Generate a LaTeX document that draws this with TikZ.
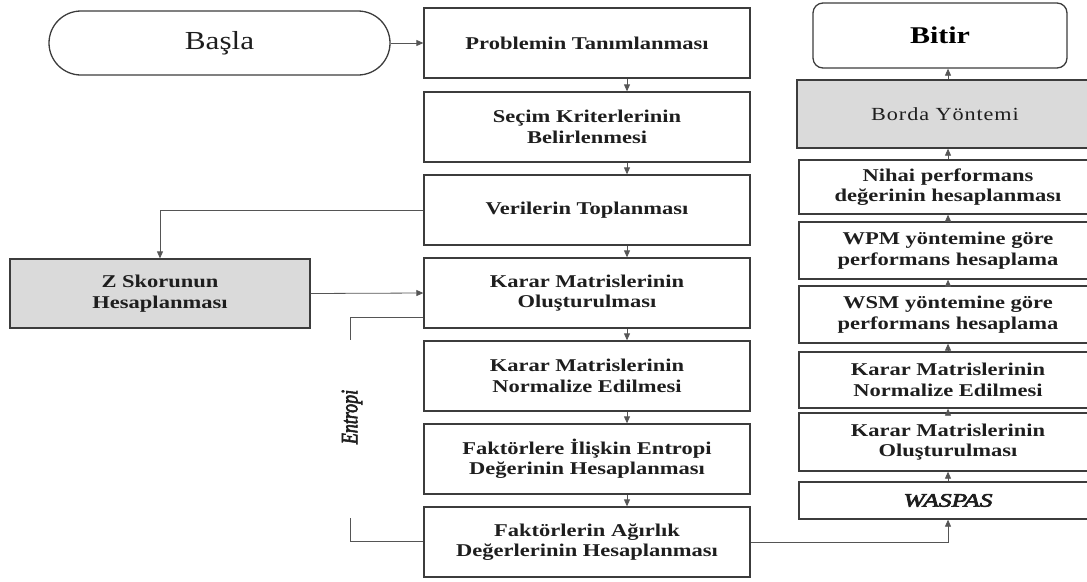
\documentclass[tikz,border=0pt]{standalone}
\usepackage{fontspec}
\setmainfont{Liberation Serif}[FakeStretch=1.25]
\newfontfamily\baslafont{Liberation Serif}[FakeStretch=1.2]
\newfontfamily\bordafont{Liberation Serif}[FakeStretch=1.2,LetterSpace=5]
\newfontfamily\bifont{Liberation Serif}[FakeBold=3]
\usetikzlibrary{arrows.meta}
\definecolor{boxline}{HTML}{3C3C3C}
\definecolor{conn}{HTML}{555555}
\definecolor{boxgray}{HTML}{DADADA}
\definecolor{txt}{HTML}{1E1E1E}
\tikzset{
  box/.style={draw=boxline, line width=1.3pt, rectangle, align=center, inner sep=0pt,
    font=\bfseries\fontsize{18}{20.5}\selectfont, text=txt},
  midbox/.style={box, minimum width=326pt, minimum height=70pt},
  rbox/.style={box, minimum width=298pt},
  arr/.style={draw=conn, line width=0.8pt, -{Triangle[length=7pt,width=6pt]}},
  ln/.style={draw=conn, line width=0.8pt},
}
\begin{document}
\begin{tikzpicture}[x=1pt,y=-1pt]
\useasboundingbox (0,0) rectangle (1087,581);
\clip (0,0) rectangle (1087,581);
% start
\node[draw=boxline, line width=1.3pt, rounded corners=32pt, minimum width=341pt, minimum height=64pt,
  inner sep=0pt, text=txt, font=\baslafont\fontsize{26}{30}\selectfont] (basla) at (219.5,43) {Başla};
% middle column
\node[midbox] (m1) at (587,43) {Problemin Tanımlanması};
\node[midbox] (m2) at (587,127) {Seçim Kriterlerinin\\Belirlenmesi};
\node[midbox] (m3) at (587,210) {Verilerin Toplanması};
\node[midbox] (m4) at (587,293) {Karar Matrislerinin\\Oluşturulması};
\node[midbox] (m5) at (587,376) {Karar Matrislerinin\\Normalize Edilmesi};
\node[midbox] (m6) at (587,459) {Faktörlere İlişkin Entropi\\Değerinin Hesaplanması};
\node[midbox] (m7) at (587,542) {Faktörlerin Ağırlık\\Değerlerinin Hesaplanması};
% Z box
\node[box, fill=boxgray, minimum width=300pt, minimum height=69pt] (z) at (160,293.5) {Z Skorunun\\Hesaplanması};
% right column
\node[draw=boxline, line width=1.3pt, rounded corners=10pt, minimum width=254pt, minimum height=65pt,
  inner sep=0pt, text=black, font=\bfseries\fontsize{24}{28}\selectfont] (bitir) at (940,35.5) {Bitir};
\node[box, fill=boxgray, minimum width=296pt, minimum height=68pt, font=\bordafont\fontsize{18.5}{21}\selectfont] (borda) at (945,114) {Borda Yöntemi};
\node[rbox, minimum height=54pt] (r1) at (948,187) {Nihai performans\\değerinin hesaplanması};
\node[rbox, minimum height=57pt] (r2) at (948,250.5) {WPM yöntemine göre\\performans hesaplama};
\node[rbox, minimum height=57pt] (r3) at (948,314.5) {WSM yöntemine göre\\performans hesaplama};
\node[rbox, minimum height=56pt] (r4) at (948,380) {Karar Matrislerinin\\Normalize Edilmesi};
\node[rbox, minimum height=58pt] (r5) at (948,442) {Karar Matrislerinin\\Oluşturulması};
\node[rbox, minimum height=37pt, font=\bifont\itshape\fontsize{19}{21}\selectfont] (r6) at (948,500.5) {\scalebox{1.35}[1]{WASPAS}};
% Entropi label
\node[rotate=90, font=\bifont\itshape\fontsize{18}{21}\selectfont, text=txt] (ent) at (352,417) {\scalebox{1}[1.3]{Entropi}};
\coordinate (e1) at (350,317);
\coordinate (e2) at (350,340);
\coordinate (e3) at (350,518);
\coordinate (e4) at (350,541);
% connectors
\draw[arr] (basla.east) -- (m1.west);
\foreach \a/\b in {m1/m2,m2/m3,m3/m4,m4/m5,m5/m6,m6/m7}
  \draw[arr] ([xshift=40pt]\a.south) -- ([xshift=40pt]\b.north);
\draw[arr] (m3.west) -| (z.north);
\draw[arr] (z.east) -- (m4.west);
\draw[ln] (m4.west |- e1) -- (e1) -- (e2);
\draw[ln] (e3) -- (e4) -- (m7.west |- e4);
\draw[arr] (m7.east) -| (r6.south);
\draw[arr] (r6.north) -- (r5.south);
\draw[arr] (r5.north) -- (r4.south);
\draw[arr] (r4.north) -- (r3.south);
\draw[arr] (r3.north) -- (r2.south);
\draw[arr] (r2.north) -- (r1.south);
\draw[arr] (r1.north) -- (r1.north |- borda.south);
\draw[arr] (r1.north |- borda.north) -- (r1.north |- bitir.south);
\end{tikzpicture}
\end{document}
